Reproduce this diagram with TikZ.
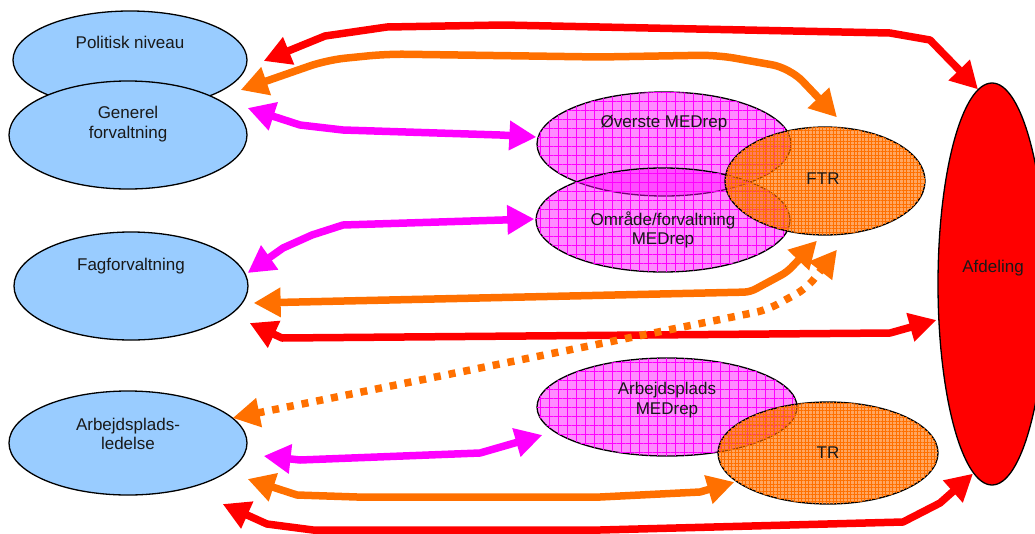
\documentclass[tikz,border=0pt]{standalone}
\usepackage{fontspec}
\setmainfont{Liberation Sans}
\usetikzlibrary{shapes.geometric,arrows.meta,calc,patterns.meta}
\definecolor{bluef}{HTML}{99CCFF}
\definecolor{ora}{HTML}{FF7000}
\definecolor{mag}{HTML}{FF00FF}
\definecolor{redc}{HTML}{FF0000}
\tikzset{
  ell/.style={ellipse, draw=black, line width=1.3pt, inner sep=0pt},
  blueell/.style={ell, fill=bluef},
  magell/.style={ell, fill=mag, fill opacity=0.45,
    postaction={fill opacity=0.55, pattern={Lines[distance=9pt,angle=0,line width=0.55pt]}, pattern color=mag},
    postaction={fill opacity=0.55, pattern={Lines[distance=9pt,angle=90,line width=0.55pt]}, pattern color=mag}},
  oraell/.style={ell, fill=ora, fill opacity=0.62,
    postaction={fill opacity=0.5, pattern={Lines[distance=3.5pt,angle=0,line width=0.5pt]}, pattern color=ora},
    postaction={fill opacity=0.5, pattern={Lines[distance=3.5pt,angle=90,line width=0.5pt]}, pattern color=ora}},
  redell/.style={ell, fill=redc},
  lbl/.style={font=\fontsize{17}{19.5}\selectfont, align=center, inner sep=0pt, text=black!90},
  arr/.style={line width=7.5pt, line join=round,
    arrows={Triangle[length=27pt,width=28pt]-Triangle[length=27pt,width=28pt]}},
}
\begin{document}
\begin{tikzpicture}[x=1pt,y=-1pt]
\useasboundingbox (0,0) rectangle (1035,533);
% blue ellipses
\node[blueell, minimum width=234pt, minimum height=98pt] (pol) at (130,60) {};
\node[blueell, minimum width=238pt, minimum height=108pt] (gen) at (128,135) {};
\node[blueell, minimum width=234pt, minimum height=108pt] (fag) at (131,286) {};
\node[blueell, minimum width=238pt, minimum height=104pt] (arb) at (128,443) {};
% MED and TR ellipses
\node[magell, minimum width=254pt, minimum height=104pt] (ove) at (664,144) {};
\node[magell, minimum width=254pt, minimum height=104pt] (omr) at (663,220) {};
\node[oraell, minimum width=200pt, minimum height=108pt] (ftr) at (825,181) {};
\node[magell, minimum width=260pt, minimum height=98pt] (amed) at (667,407) {};
\node[oraell, minimum width=220pt, minimum height=102pt] (tr) at (828,453) {};
\node[redell, minimum width=108pt, minimum height=402pt] (afd) at (992,284) {};
% labels
\node[lbl] (polt) at (130,42) {Politisk niveau};
\node[lbl] (gent) at (128,124) {Generel\\forvaltning};
\node[lbl] (fagt) at (131,266) {Fagforvaltning};
\node[lbl] (arbt) at (128,434) {Arbejdsplads-\\ledelse};
\node[lbl] (ovet) at (664,123) {Øverste MEDrep};
\node[lbl] (omrt) at (663,230) {Område/forvaltning\\MEDrep};
\node[lbl] (ftrt) at (823,179) {FTR};
\node[lbl] (amedt) at (667,400) {Arbejdsplads\\MEDrep};
\node[lbl] (trt) at (828,453) {TR};
\node[lbl] (afdt) at (993,268) {Afdeling};
% arrows
\draw[arr, color=redc] ($(pol.east)+(16,1)$) -- (325,36) -- (387,27) -- (503,25) -- (890,33) -- (930,40) -- ($(afd.north)+(-14,7)$);
\draw[arr, color=ora, rounded corners=18pt] ($(gen.east)+(-7,-45)$) -- (327,60) -- (387,54) -- (600,57) -- (717,55) -- (790,68) -- ($(ftr.north)+(12,-9)$);
\draw[arr, color=mag] ($(gen.east)+(0,-27)$) -- (300,125) -- (343,130) -- (500,135) -- ($(ove.west)+(0,-7)$);
\draw[arr, color=mag] ($(omr.west)+(-1,-1)$) -- (343,225) -- (312,235) -- (283,248) -- ($(fag.east)+(-1,-13)$);
\draw[arr, color=ora, rounded corners=6pt] ($(fag.east)+(5,17)$) -- (750,292) -- (787,272) -- ($(ftr.south)+(-8,5)$);
\draw[arr, color=redc] ($(fag.east)+(1,37)$) -- (282,338) -- (890,333) -- ($(afd.west)+(-1,36)$);
\draw[arr, color=ora, dash pattern=on 7pt off 8pt, rounded corners=12pt] ($(arb.east)+(-15,-25)$) -- (767,310) -- (807,288) -- ($(ftr.south)+(12,14)$);
\draw[arr, color=mag] ($(arb.east)+(16,13)$) -- (300,460) -- (480,453) -- ($(amed.west)+(6,28)$);
\draw[arr, color=ora] ($(arb.east)+(0,36)$) -- (297,495) -- (357,497) -- (600,497) -- (700,492) -- ($(tr.west)+(17,29)$);
\draw[arr, color=redc] ($(arb.east)+(-25,61)$) -- (267,524) -- (313,530) -- (600,530) -- (903,522) -- (940,503) -- ($(afd.south)+(-19,-12)$);
\end{tikzpicture}
\end{document}
